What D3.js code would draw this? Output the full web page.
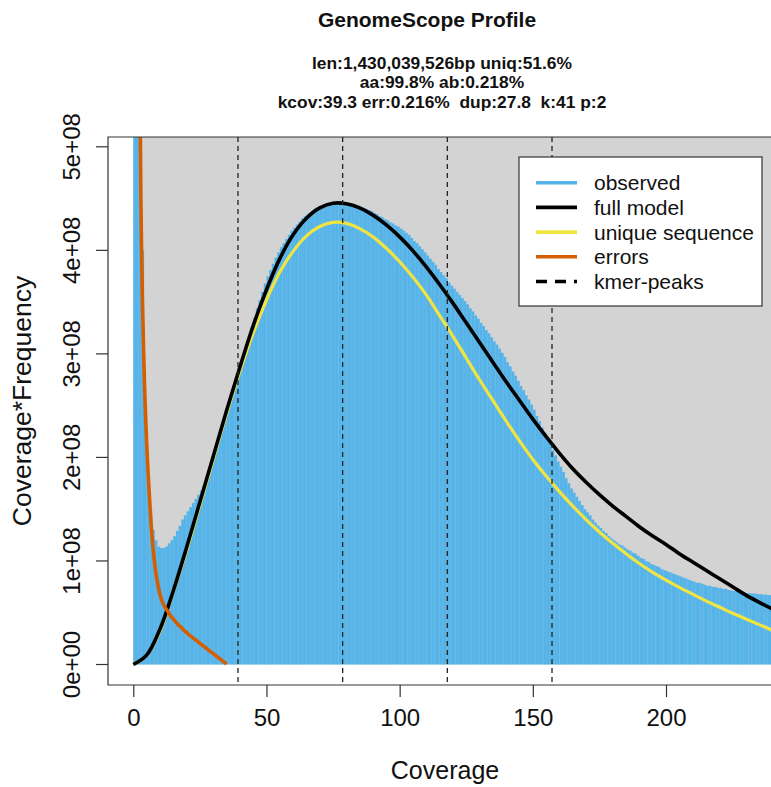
<!DOCTYPE html>
<html lang="en">
<head>
<meta charset="utf-8">
<title>GenomeScope Profile</title>
<script src="https://cdn.jsdelivr.net/npm/d3@7"></script>
<style>
  body { margin: 0; background: #fff; }
  svg { display: block; font-family: "Liberation Sans", Arial, Helvetica, sans-serif; }
</style>
</head>
<body>
<svg id="chart" width="771" height="787"></svg>
<script>

// values are in units of 1e8 (coverage * frequency)
const UNIT = 1e8;

// observed histogram, coverage 1..245
const observed = [
  80, 25, 9, 4.0, 2.45, 1.85, 1.5, 1.3, 1.2, 1.14,
  1.125, 1.125, 1.14, 1.17, 1.2, 1.24, 1.29, 1.34, 1.40, 1.44,
  1.48, 1.52, 1.56, 1.60, 1.64, 1.68, 1.72, 1.80, 1.88, 1.96,
  2.04, 2.12, 2.20, 2.28, 2.36, 2.45, 2.54, 2.63, 2.72, 2.81,
  2.90, 2.99, 3.08, 3.17, 3.26, 3.35, 3.44, 3.52, 3.60, 3.68,
  3.75, 3.81, 3.87, 3.93, 3.98, 4.03, 4.07, 4.11, 4.15, 4.19,
  4.22, 4.25, 4.28, 4.31, 4.33, 4.35, 4.37, 4.39, 4.41, 4.42,
  4.43, 4.44, 4.45, 4.46, 4.46, 4.47, 4.47, 4.47, 4.46, 4.46,
  4.45, 4.45, 4.44, 4.43, 4.43, 4.42, 4.41, 4.40, 4.39, 4.38,
  4.36, 4.35, 4.33, 4.32, 4.30, 4.29, 4.27, 4.26, 4.24, 4.23,
  4.21, 4.19, 4.17, 4.15, 4.12, 4.09, 4.07, 4.04, 4.01, 3.98,
  3.95, 3.92, 3.89, 3.86, 3.82, 3.79, 3.76, 3.73, 3.69, 3.66,
  3.63, 3.60, 3.57, 3.54, 3.51, 3.48, 3.44, 3.41, 3.37, 3.34,
  3.30, 3.27, 3.23, 3.20, 3.16, 3.12, 3.09, 3.05, 3.01, 2.97,
  2.92, 2.88, 2.83, 2.79, 2.74, 2.69, 2.65, 2.60, 2.56, 2.51,
  2.46, 2.40, 2.35, 2.29, 2.24, 2.18, 2.13, 2.07, 2.02, 1.96,
  1.91, 1.86, 1.80, 1.75, 1.70, 1.66, 1.62, 1.58, 1.54, 1.50,
  1.47, 1.44, 1.40, 1.37, 1.34, 1.32, 1.29, 1.27, 1.24, 1.22,
  1.20, 1.18, 1.16, 1.15, 1.13, 1.11, 1.10, 1.08, 1.07, 1.05,
  1.03, 1.02, 1.00, 0.99, 0.97, 0.96, 0.95, 0.94, 0.92, 0.91,
  0.90, 0.89, 0.88, 0.87, 0.86, 0.85, 0.84, 0.83, 0.82, 0.81,
  0.80, 0.79, 0.79, 0.78, 0.77, 0.76, 0.76, 0.75, 0.75, 0.74,
  0.74, 0.73, 0.73, 0.72, 0.715, 0.71, 0.71, 0.70, 0.70, 0.695,
  0.69, 0.69, 0.685, 0.685, 0.68, 0.68, 0.675, 0.675, 0.67, 0.67,
  0.665, 0.665, 0.66, 0.66, 0.655
];

// model curves, sampled every 5x coverage
const modelCov = [0, 5, 10, 15, 20, 25, 30, 35, 40, 45, 50, 55, 60, 65, 70, 75, 80, 85, 90, 95,
  100, 105, 110, 115, 120, 125, 130, 135, 140, 145, 150, 155, 160, 165, 170, 175, 180, 185, 190, 195,
  200, 205, 210, 215, 220, 225, 230, 235, 240, 245];
const fullModel = [0, 0.09, 0.34, 0.71, 1.13, 1.57, 2.01, 2.45, 2.87, 3.27, 3.62, 3.92, 4.15, 4.31, 4.41, 4.455, 4.45, 4.41, 4.34, 4.245,
  4.13, 3.995, 3.84, 3.67, 3.49, 3.30, 3.11, 2.92, 2.73, 2.55, 2.37, 2.20, 2.04, 1.89, 1.76, 1.64, 1.53, 1.43, 1.33, 1.24,
  1.16, 1.07, 0.99, 0.91, 0.83, 0.75, 0.67, 0.60, 0.535, 0.475];
const uniqueSeq = [0, 0.09, 0.32, 0.70, 1.10, 1.54, 1.98, 2.42, 2.83, 3.20, 3.52, 3.79, 3.99, 4.14, 4.23, 4.27, 4.26, 4.21, 4.13, 4.02,
  3.89, 3.74, 3.57, 3.37, 3.17, 2.96, 2.75, 2.55, 2.35, 2.16, 1.98, 1.82, 1.67, 1.53, 1.40, 1.28, 1.17, 1.07, 0.975, 0.89,
  0.815, 0.745, 0.68, 0.615, 0.555, 0.495, 0.44, 0.385, 0.33, 0.28];

// error k-mers, coverage 1..35
const errors = [14, 7.0, 4.2, 2.9, 2.15, 1.65, 1.25, 0.98, 0.8, 0.68,
  0.6, 0.55, 0.51, 0.47, 0.44, 0.41, 0.38, 0.36, 0.33, 0.31,
  0.285, 0.265, 0.245, 0.225, 0.205, 0.185, 0.165, 0.145, 0.125, 0.105,
  0.085, 0.065, 0.045, 0.025, 0.005];

const kmerPeaks = [39.3, 78.6, 117.9, 157.2];
const xTicks = [0, 50, 100, 150, 200];
const yTicks = [0, 1e8, 2e8, 3e8, 4e8, 5e8];

const titleText = "GenomeScope Profile";
const subtitle = [
  "len:1,430,039,526bp uniq:51.6%",
  "aa:99.8% ab:0.218%",
  "kcov:39.3 err:0.216%  dup:27.8  k:41 p:2"
];
const legendItems = [
  {label: "observed", color: "#56B4E9", dash: null},
  {label: "full model", color: "#000000", dash: null},
  {label: "unique sequence", color: "#F0E442", dash: null},
  {label: "errors", color: "#D55E00", dash: null},
  {label: "kmer-peaks", color: "#000000", dash: "11,8"}
];

const cols = {
  hist: "#56B4E9",
  bg: "#D3D3D3",
  model: "#000000",
  unique: "#F0E442",
  errors: "#D55E00"
};

// plot box
const box = {left: 108, top: 137, right: 800, bottom: 685};

const svg = d3.select('#chart');

const x = d3.scaleLinear().domain([0, 200]).range([133.3, 666]);
const y = d3.scaleLinear().domain([0, 5e8]).range([664.5, 146.8]);

svg.append('defs').append('clipPath').attr('id', 'plotclip')
  .append('rect')
  .attr('x', box.left).attr('y', box.top)
  .attr('width', box.right - box.left).attr('height', box.bottom - box.top);

const plot = svg.append('g').attr('clip-path', 'url(#plotclip)');

// grey background from zero coverage upward
plot.append('rect')
  .attr('x', x(0)).attr('y', box.top)
  .attr('width', box.right - x(0))
  .attr('height', y(0) - box.top)
  .attr('fill', cols.bg);

// observed histogram
plot.selectAll('rect.bar')
  .data(observed)
  .enter().append('rect').attr('class', 'bar')
  .attr('x', function(d, i) { return x(i); })
  .attr('width', function(d, i) { return x(i + 1) - x(i) + 0.15; })
  .attr('y', function(d) { return y(d * UNIT); })
  .attr('height', function(d) { return y(0) - y(d * UNIT); })
  .attr('fill', cols.hist);

const smooth = d3.line()
  .x(function(d) { return x(d[0]); })
  .y(function(d) { return y(d[1] * UNIT); })
  .curve(d3.curveCatmullRom.alpha(0.5));

const steep = d3.line()
  .x(function(d) { return x(d[0]); })
  .y(function(d) { return y(d[1] * UNIT); })
  .curve(d3.curveMonotoneX);

plot.append('path')
  .datum(modelCov.map(function(c, i) { return [c, uniqueSeq[i]]; }))
  .attr('d', smooth)
  .attr('fill', 'none').attr('stroke', cols.unique).attr('stroke-width', 3.2);

plot.append('path')
  .datum(modelCov.map(function(c, i) { return [c, fullModel[i]]; }))
  .attr('d', smooth)
  .attr('fill', 'none').attr('stroke', cols.model).attr('stroke-width', 3.6);

plot.append('path')
  .datum(errors.map(function(v, i) { return [i + 1, v]; }))
  .attr('d', steep)
  .attr('fill', 'none').attr('stroke', cols.errors).attr('stroke-width', 3.6);

// kmer peaks
plot.selectAll('line.peak')
  .data(kmerPeaks)
  .enter().append('line').attr('class', 'peak')
  .attr('x1', function(d) { return x(d); })
  .attr('x2', function(d) { return x(d); })
  .attr('y1', box.top).attr('y2', box.bottom)
  .attr('stroke', '#222').attr('stroke-width', 1.3)
  .attr('stroke-dasharray', '5,4');

// box
svg.append('path')
  .attr('d', 'M' + (box.right) + ',' + box.top + 'H' + box.left + 'V' + box.bottom + 'H' + box.right)
  .attr('fill', 'none').attr('stroke', '#333').attr('stroke-width', 1.2);

// x axis
const xAxis = svg.append('g')
  .attr('transform', 'translate(0,' + box.bottom + ')')
  .call(d3.axisBottom(x).tickValues(xTicks).tickSize(12).tickPadding(12).tickFormat(d3.format('d')));
xAxis.select('.domain').remove();
xAxis.selectAll('line').attr('stroke', '#333').attr('stroke-width', 1.2);
xAxis.selectAll('text')
  .attr('font-size', 24).attr('font-family', null).attr('fill', '#111');

// y axis with R style labels
const yAxis = svg.append('g')
  .attr('transform', 'translate(' + box.left + ',0)')
  .call(d3.axisLeft(y).tickValues(yTicks).tickSize(12).tickFormat(function(d) {
    return d === 0 ? '0e+00' : (d / UNIT) + 'e+08';
  }));
yAxis.select('.domain').remove();
yAxis.selectAll('line').attr('stroke', '#333').attr('stroke-width', 1.2);
yAxis.selectAll('text')
  .attr('x', null).attr('dy', null)
  .attr('text-anchor', 'middle')
  .attr('transform', function(d) { return 'translate(-28,' + y(d) + ') rotate(-90)'; })
  .attr('font-size', 24).attr('font-family', null).attr('fill', '#111');
yAxis.selectAll('.tick').attr('transform', null);
yAxis.selectAll('.tick line')
  .attr('y1', function(d) { return y(d); })
  .attr('y2', function(d) { return y(d); });

// axis titles
svg.append('text')
  .attr('x', 445).attr('y', 779)
  .attr('text-anchor', 'middle')
  .attr('font-size', 25).attr('fill', '#111')
  .text('Coverage');

svg.append('text')
  .attr('transform', 'translate(31,401) rotate(-90)')
  .attr('text-anchor', 'middle')
  .attr('font-size', 26.5).attr('fill', '#111')
  .text('Coverage*Frequency');

// title + stats
svg.append('text')
  .attr('x', 427).attr('y', 27)
  .attr('text-anchor', 'middle')
  .attr('font-size', 21).attr('font-weight', 'bold').attr('fill', '#111')
  .text(titleText);

svg.selectAll('text.sub')
  .data(subtitle)
  .enter().append('text').attr('class', 'sub')
  .attr('x', 442)
  .attr('y', function(d, i) { return 68.5 + i * 19.5; })
  .attr('text-anchor', 'middle')
  .attr('font-size', 17.4).attr('font-weight', 'bold').attr('fill', '#111')
  .style('white-space', 'pre')
  .text(function(d) { return d; });

// legend
const legend = svg.append('g');
legend.append('rect')
  .attr('x', 519).attr('y', 157).attr('width', 243).attr('height', 149)
  .attr('fill', '#fff').attr('stroke', '#333').attr('stroke-width', 1.2);

const rows = legend.selectAll('g.row')
  .data(legendItems)
  .enter().append('g').attr('class', 'row')
  .attr('transform', function(d, i) { return 'translate(0,' + (182.7 + i * 24.7) + ')'; });

rows.append('line')
  .attr('x1', 536).attr('x2', 577)
  .attr('stroke', function(d) { return d.color; })
  .attr('stroke-width', 3.6)
  .attr('stroke-dasharray', function(d) { return d.dash; });

rows.append('text')
  .attr('x', 594).attr('y', 7.5)
  .attr('font-size', 21).attr('fill', '#111')
  .text(function(d) { return d.label; });

</script>
</body>
</html>
